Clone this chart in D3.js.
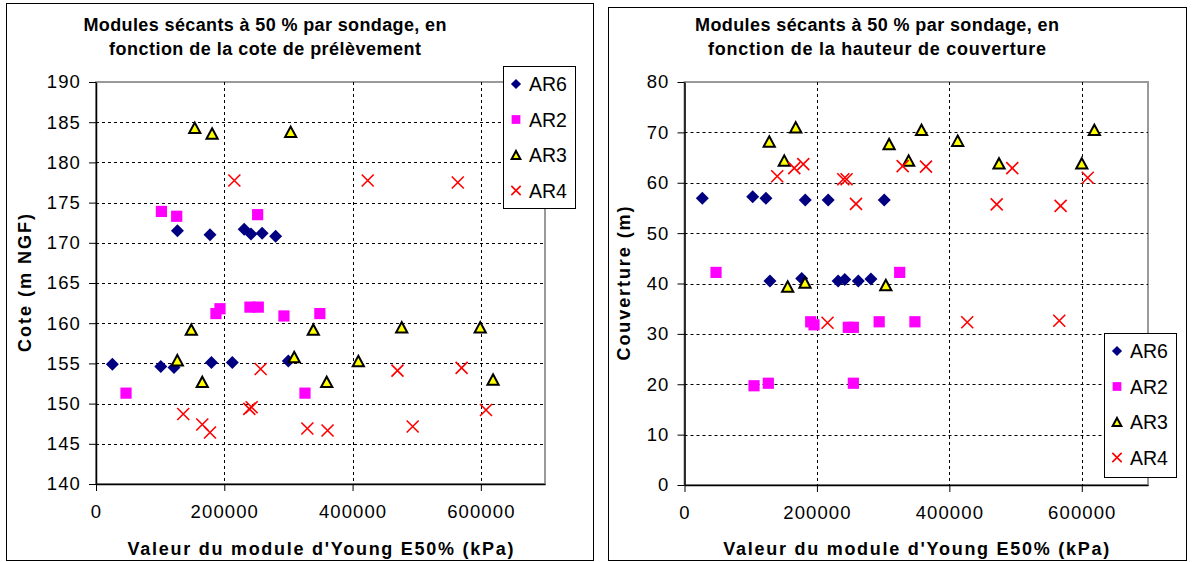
<!DOCTYPE html>
<html><head><meta charset="utf-8">
<script src="https://cdn.jsdelivr.net/npm/d3@7/dist/d3.min.js"></script>
<style>
html,body{margin:0;padding:0;background:#fff;}
svg{display:block;font-family:"Liberation Sans",Arial,sans-serif;}
</style></head>
<body>
<svg id="c" width="1192" height="562"></svg>
<script>
// ---- data ----
const seriesNames = ["AR6", "AR2", "AR3", "AR4"];
const xTicks = [0, 200000, 400000, 600000];
const leftYTicks = [140, 145, 150, 155, 160, 165, 170, 175, 180, 185, 190];
const rightYTicks = [0, 10, 20, 30, 40, 50, 60, 70, 80];

const titleLeft = ["Modules sécants à 50 % par sondage, en", "fonction de la cote de prélèvement"];
const titleRight = ["Modules sécants à 50 % par sondage, en", "fonction de la hauteur de couverture"];
const xTitle = "Valeur du module d'Young E50% (kPa)";
const yTitleLeft = "Cote (m NGF)";
const yTitleRight = "Couverture (m)";

const ar6Left = [[25500,154.9],[101000,154.6],[121600,154.5],[127000,171.5],[177700,171.0],[180000,155.1],[212500,155.1],[231000,171.7],[241600,171.1],[259000,171.2],[280000,170.8],[299800,155.3]];
const ar2Left = [[46800,151.3],[102000,173.9],[125800,173.3],[187000,161.2],[193300,161.8],[240000,162.0],[252000,173.5],[253000,162.0],[293000,160.9],[325800,151.3],[349000,161.2]];
const ar3Left = [[126800,155.4],[148600,159.2],[154000,184.3],[165700,152.7],[181000,183.6],[303500,183.8],[309000,155.8],[338800,159.2],[359700,152.7],[409000,155.3],[476600,159.5],[599000,159.5],[619000,153.0]];
const ar4Left = [[136000,148.7],[165700,147.4],[177700,146.4],[215700,177.75],[239000,149.35],[242700,149.55],[256700,154.3],[329500,146.9],[361000,146.65],[423600,177.75],[470000,154.1],[493700,147.15],[564000,177.5],[570000,154.45],[608000,149.2]];

const ar6Right = [[26900,56.9],[103000,57.2],[123000,56.9],[182400,56.6],[217000,56.6],[301700,56.6],[129000,40.5],[177000,41.0],[232000,40.5],[242000,40.8],[262500,40.5],[281600,40.9]];
const ar2Right = [[47600,42.2],[105000,19.7],[126600,20.2],[190600,32.4],[195600,31.8],[247400,31.3],[255000,31.3],[255000,20.2],[294000,32.4],[325000,42.2],[348000,32.4]];
const ar3Right = [[128000,68.2],[150700,64.4],[155800,39.4],[168000,71.0],[182000,40.2],[304000,39.7],[309000,67.7],[338500,64.4],[358000,70.5],[412600,68.35],[475000,63.85],[600000,63.85],[619000,70.5]];
const ar4Right = [[140000,61.3],[165800,62.9],[179400,63.7],[216000,32.2],[239800,60.7],[244800,60.7],[259000,55.8],[329500,63.3],[364700,63.2],[427000,32.3],[471500,55.7],[495000,62.9],[566000,32.6],[568000,55.4],[609000,61.0]];

// ---- drawing ----
const svg = d3.select("#c");

function marker(g, type, x, y, s) {
  if (type === "AR6") {
    const r = 6.5 * s;
    g.append("path").attr("d", `M${x},${y-r}L${x+r},${y}L${x},${y+r}L${x-r},${y}Z`).attr("fill", "#000080");
  } else if (type === "AR2") {
    const h = 5.6 * s;
    g.append("rect").attr("x", x-h).attr("y", y-h).attr("width", 2*h).attr("height", 2*h).attr("fill", "#FF00FF");
  } else if (type === "AR3") {
    const w = 5.6 * s, h = 5.2 * s;
    g.append("path").attr("d", `M${x},${y-h}L${x+w},${y+h}L${x-w},${y+h}Z`)
      .attr("fill", "#FFFF00").attr("stroke", "#000").attr("stroke-width", 2).attr("stroke-linejoin", "miter");
  } else {
    const r = 6 * s;
    g.append("path").attr("d", `M${x-r},${y-r}L${x+r},${y+r}M${x+r},${y-r}L${x-r},${y+r}`)
      .attr("stroke", "#FF0000").attr("stroke-width", 1.6).attr("fill", "none");
  }
}

function drawChart(cfg) {
  const g = svg.append("g");
  g.append("rect").attr("x", cfg.frame[0]+0.5).attr("y", cfg.frame[1]+0.5)
    .attr("width", cfg.frame[2]-cfg.frame[0]).attr("height", cfg.frame[3]-cfg.frame[1])
    .attr("fill", "#fff").attr("stroke", "#000").attr("stroke-width", 1);

  const x = d3.scaleLinear().domain([0, 700000]).range([cfg.plot.l, cfg.plot.r]);
  const y = d3.scaleLinear().domain(cfg.yDomain).range([cfg.plot.b, cfg.plot.t]);

  g.append("rect").attr("x", cfg.plot.l).attr("y", cfg.plot.t)
    .attr("width", cfg.plot.r - cfg.plot.l).attr("height", cfg.plot.b - cfg.plot.t)
    .attr("fill", "#fff").attr("stroke", "#9a9a9a").attr("stroke-width", 2);

  const grid = g.append("g").attr("stroke", "#000").attr("stroke-width", 1).attr("stroke-dasharray", "3,3");
  cfg.yTicks.filter(v => v !== cfg.yDomain[0] && v !== cfg.yDomain[1]).forEach(v => {
    grid.append("line").attr("x1", cfg.plot.l).attr("x2", cfg.plot.r)
      .attr("y1", Math.round(y(v))+0.5).attr("y2", Math.round(y(v))+0.5);
  });
  xTicks.filter(v => v > 0).forEach(v => {
    grid.append("line").attr("x1", Math.round(x(v))+0.5).attr("x2", Math.round(x(v))+0.5)
      .attr("y1", cfg.plot.t).attr("y2", cfg.plot.b);
  });

  const ya = g.append("g").attr("transform", `translate(${cfg.plot.l},0)`)
    .call(d3.axisLeft(y).tickValues(cfg.yTicks).tickSize(7).tickPadding(8).tickSizeOuter(0));
  const xa = g.append("g").attr("transform", `translate(0,${cfg.plot.b})`)
    .call(d3.axisBottom(x).tickValues(xTicks).tickFormat(d3.format("d")).tickSize(7).tickPadding(14).tickSizeOuter(0));
  [ya, xa].forEach(a => {
    a.select(".domain").attr("stroke", "#000").attr("stroke-width", 1.5);
    a.selectAll(".tick line").attr("stroke", "#000");
    a.selectAll(".tick text").attr("font-size", 18.5).attr("letter-spacing", "1.1px")
      .attr("fill", "#000").attr("font-family", "Liberation Sans, Arial, sans-serif");
  });

  const pts = g.append("g");
  cfg.series.forEach((data, i) => {
    data.forEach(d => marker(pts, seriesNames[i], x(d[0]), y(d[1]), 1));
  });

  cfg.title.forEach((t, i) => {
    g.append("text").attr("x", cfg.titleX).attr("y", 31 + i * 24).attr("text-anchor", "middle")
      .attr("font-size", 18).attr("font-weight", "bold")
      .attr("textLength", cfg.titleLen[i]).attr("lengthAdjust", "spacing").text(t);
  });
  g.append("text").attr("x", (cfg.plot.l + cfg.plot.r) / 2).attr("y", 555).attr("text-anchor", "middle")
    .attr("font-size", 18).attr("font-weight", "bold")
    .attr("textLength", 386).attr("lengthAdjust", "spacing").text(xTitle);
  g.append("text").attr("transform", `translate(${cfg.yTitleX},${(cfg.plot.t + cfg.plot.b) / 2}) rotate(-90)`)
    .attr("text-anchor", "middle").attr("font-size", 18).attr("font-weight", "bold")
    .attr("textLength", cfg.yTitleLen).attr("lengthAdjust", "spacing")
    .text(cfg.yTitle);

  const L = cfg.legend;
  const lg = g.append("g");
  lg.append("rect").attr("x", L.x + 0.5).attr("y", L.y + 0.5).attr("width", L.w).attr("height", L.h)
    .attr("fill", "#fff").attr("stroke", "#000").attr("stroke-width", 1);
  seriesNames.forEach((n, i) => {
    const cy = L.y + 18 + i * 35.5;
    marker(lg, n, L.x + 13, cy, 0.78);
    lg.append("text").attr("x", L.x + 26).attr("y", cy + 7).attr("font-size", 19.5).text(n);
  });
}

drawChart({
  frame: [6, 3, 593, 560],
  plot: {l: 96, r: 545, t: 82, b: 484},
  yDomain: [140, 190], yTicks: leftYTicks,
  series: [ar6Left, ar2Left, ar3Left, ar4Left],
  title: titleLeft, titleX: 265, titleLen: [363, 312],
  yTitle: yTitleLeft, yTitleX: 31, yTitleLen: 138,
  legend: {x: 503, y: 66, w: 72, h: 142}
});
drawChart({
  frame: [608, 7, 1186, 560],
  plot: {l: 684.5, r: 1148, t: 82, b: 485},
  yDomain: [0, 80], yTicks: rightYTicks,
  series: [ar6Right, ar2Right, ar3Right, ar4Right],
  title: titleRight, titleX: 877, titleLen: [364, 338],
  yTitle: yTitleRight, yTitleX: 630, yTitleLen: 154,
  legend: {x: 1104, y: 333, w: 72, h: 144}
});
</script>
</body></html>
